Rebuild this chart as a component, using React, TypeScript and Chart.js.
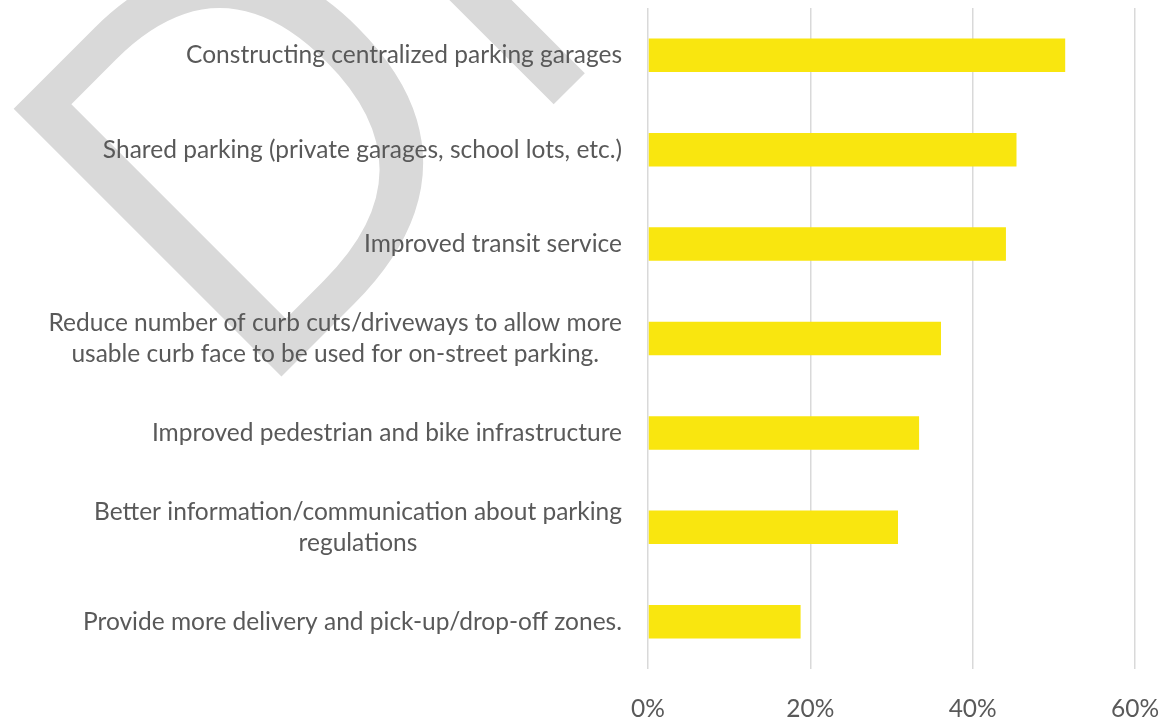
import React, { useEffect, useRef } from "react";
import { Chart, registerables } from "chart.js";

Chart.register(...registerables);

const categories: string[][] = [
  ["Constructing centralized parking garages"],
  ["Shared parking (private garages, school lots, etc.)"],
  ["Improved transit service"],
  ["Reduce number of curb cuts/driveways to allow more", "usable curb face to be used for on-street parking."],
  ["Improved pedestrian and bike infrastructure"],
  ["Better information/communication about parking", "regulations"],
  ["Provide more delivery and pick-up/drop-off zones."],
];

const values: number[] = [0.514, 0.454, 0.441, 0.361, 0.334, 0.308, 0.188];

const xTickValues: number[] = [0, 0.2, 0.4, 0.6];
const xTickLabels: string[] = ["0%", "20%", "40%", "60%"];

const watermarkText = "DRAFT";

const FONT = "Lato, 'Open Sans', sans-serif";
const WM_FONT = "'Open Sans', sans-serif";
const LABEL_SIZE = 24.5;
const LABEL_COLOR = "#595959";
const LINE_H = 31;

const watermarkPlugin = {
  id: "watermark",
  beforeDraw(chart: any) {
    const ctx = chart.ctx as CanvasRenderingContext2D;
    ctx.save();
    ctx.font = `100px ${WM_FONT}`;
    const m = ctx.measureText("D");
    const capH = m.actualBoundingBoxAscent;
    const size = (100 * 382) / capH;
    ctx.font = `${size}px ${WM_FONT}`;
    const m2 = ctx.measureText("D");
    ctx.translate(280, 378);
    ctx.rotate(-Math.PI / 4);
    ctx.fillStyle = "#d9d9d9";
    ctx.textAlign = "left";
    ctx.textBaseline = "alphabetic";
    ctx.fillText(watermarkText, m2.actualBoundingBoxLeft, 0);
    ctx.restore();
  },
};

const yLabelPlugin = {
  id: "yLabels",
  afterDraw(chart: any) {
    const ctx = chart.ctx as CanvasRenderingContext2D;
    const yScale = chart.scales.y;
    const right = chart.chartArea.left - 26;
    ctx.save();
    ctx.font = `${LABEL_SIZE}px ${FONT}`;
    ctx.fillStyle = LABEL_COLOR;
    ctx.textAlign = "center";
    ctx.textBaseline = "middle";
    categories.forEach((lines, i) => {
      const cy = yScale.getPixelForValue(i);
      const maxW = Math.max(...lines.map((l) => ctx.measureText(l).width));
      const cx = right - maxW / 2;
      lines.forEach((line, j) => {
        const y = cy + (j - (lines.length - 1) / 2) * LINE_H;
        ctx.fillText(line, cx, y);
      });
    });
    ctx.restore();
  },
};

export default function App() {
  const ref = useRef<HTMLCanvasElement | null>(null);

  useEffect(() => {
    if (!ref.current) return;
    const chart = new Chart(ref.current, {
      type: "bar",
      data: {
        labels: categories.map((c) => c.join(" ")),
        datasets: [
          {
            data: values,
            backgroundColor: "#F9E60F",
            borderWidth: 0,
            barPercentage: 0.355,
            categoryPercentage: 1,
          },
        ],
      },
      options: {
        indexAxis: "y",
        responsive: false,
        animation: false,
        layout: { padding: { left: 648, right: 37, top: 8, bottom: 0 } },
        plugins: {
          legend: { display: false },
          tooltip: { enabled: false },
        },
        scales: {
          y: {
            display: false,
          },
          x: {
            min: 0,
            max: 0.6,
            afterFit: (scale: any) => {
              scale.height = 50;
              scale.paddingLeft = 0;
              scale.paddingRight = 0;
            },
            afterBuildTicks: (scale: any) => {
              scale.ticks = xTickValues.map((v) => ({ value: v }));
            },
            border: { display: false },
            grid: {
              color: "#d9d9d9",
              lineWidth: 1.5,
              drawTicks: false,
            },
            ticks: {
              padding: 25,
              color: LABEL_COLOR,
              font: { family: FONT, size: LABEL_SIZE },
              callback: (_v: any, i: number) => xTickLabels[i],
            },
          },
        },
      },
      plugins: [watermarkPlugin, yLabelPlugin],
    });
    return () => chart.destroy();
  }, []);

  return (
    <div style={{ position: "absolute", left: 0, top: 0, width: 1172, height: 719 }}>
      <canvas ref={ref} width={1172} height={719} />
    </div>
  );
}
